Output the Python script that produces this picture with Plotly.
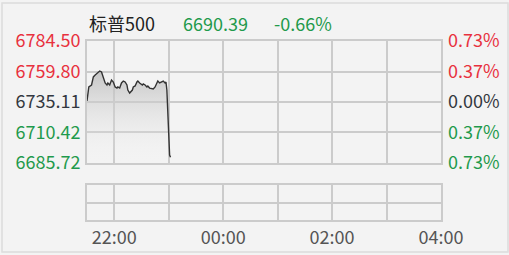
import plotly.graph_objects as go
from datetime import datetime, timedelta

# ---- data ----
title_name = "标普500"
last_price = "6690.39"
last_change = "-0.66%"
prev_close = 6735.11

minute_offsets = [0, 1, 2, 5, 7, 9, 11, 12, 14, 16, 18, 20, 22, 23, 25, 27, 29, 31, 33, 34,
                  36, 38, 40, 42, 44, 45, 47, 50, 51, 53, 55, 56, 58, 61, 62, 64, 66, 67, 69,
                  72, 73, 75, 77, 78, 80, 83, 84, 86, 87, 88, 89, 90, 91, 92]
prices = [6735.9, 6743.2, 6747.3, 6748.9, 6755.4, 6757.0, 6758.6, 6758.6, 6760.2, 6759.4,
          6755.4, 6750.5, 6748.9, 6750.5, 6748.9, 6752.9, 6751.3, 6747.3, 6746.4, 6747.3,
          6746.4, 6750.5, 6752.1, 6751.3, 6748.9, 6744.8, 6742.4, 6744.8, 6747.3, 6748.1,
          6751.3, 6752.1, 6750.5, 6748.9, 6749.7, 6748.9, 6747.3, 6748.1, 6746.4, 6745.6,
          6745.6, 6747.3, 6750.5, 6752.1, 6750.5, 6751.3, 6752.1, 6750.5, 6751.3, 6744.8,
          6723.0, 6706.8, 6692.2, 6690.39]

left_tick_vals = [6784.50, 6759.80, 6735.11, 6710.42, 6685.72]
left_tick_text = ["6784.50", "6759.80", "6735.11", "6710.42", "6685.72"]
right_tick_text = ["0.73%", "0.37%", "0.00%", "0.37%", "0.73%"]
tick_colors = ["#e8313e", "#e8313e", "#333840", "#1f9a4c", "#1f9a4c"]

hour_labels = ["22:00", "", "00:00", "", "02:00", "", "04:00"]

start = datetime(2025, 10, 10, 21, 30)
end = datetime(2025, 10, 11, 4, 0)
times = [start + timedelta(minutes=m) for m in minute_offsets]
hour_ticks = [datetime(2025, 10, 10, 22, 0) + timedelta(hours=h) for h in range(7)]

GREEN = "#1f9a4c"
GRID = "#cbcbcb"
BG = "#f3f3f3"
FONT = "Noto Sans CJK SC, Open Sans, sans-serif"
FS = 18

fig = go.Figure()

fig.add_trace(go.Scatter(
    x=times, y=prices, mode="lines",
    line=dict(color="#333333", width=1.4),
    fill="tozeroy",
    fillgradient=dict(type="vertical", start=6685.72, stop=6760.2,
                      colorscale=[[0, "rgba(243,243,243,0.0)"], [1, "rgba(185,185,185,0.8)"]]),
    xaxis="x", yaxis="y", hoverinfo="skip", showlegend=False,
))
fig.add_trace(go.Scatter(x=[start, end], y=[left_tick_vals[0], left_tick_vals[-1]],
                         mode="markers", marker=dict(opacity=0), xaxis="x", yaxis="y3",
                         hoverinfo="skip", showlegend=False))
fig.add_trace(go.Scatter(x=[start, end], y=[0, 2], mode="markers", marker=dict(opacity=0),
                         xaxis="x2", yaxis="y2", hoverinfo="skip", showlegend=False))

fig.add_shape(type="line", xref="x", yref="y", x0=start, x1=end, y0=prev_close, y1=prev_close,
              line=dict(color="#b4b4b4", width=2), layer="below")

ticktext_left = [f'<span style="color:{c}">{t}</span>' for t, c in zip(left_tick_text, tick_colors)]
ticktext_right = [f'<span style="color:{c}">{t}</span>' for t, c in zip(right_tick_text, tick_colors)]

main_dom = [57 / 179, 1.0]
vol_dom = [0, 35 / 179]

xcommon = dict(range=[start, end], tickvals=hour_ticks, showgrid=True, gridcolor=GRID, gridwidth=2,
               showline=True, linecolor=GRID, linewidth=2, mirror=True, zeroline=False,
               ticks="", fixedrange=True, automargin=False)

fig.update_layout(
    width=509, height=255,
    margin=dict(l=87, r=68, t=41, b=35, autoexpand=False),
    paper_bgcolor=BG, plot_bgcolor=BG,
    font=dict(family=FONT, size=FS, color="#333"),
    xaxis=dict(**xcommon, domain=[0, 1], anchor="y", showticklabels=False),
    xaxis2=dict(**xcommon, domain=[0, 1], anchor="y2", matches="x", showticklabels=True,
                ticktext=hour_labels, tickfont=dict(color="#555", size=FS), ticklabelstandoff=0),
    yaxis=dict(domain=main_dom, range=[left_tick_vals[-1], left_tick_vals[0]], tickvals=left_tick_vals,
               ticktext=ticktext_left, showgrid=True, gridcolor=GRID, gridwidth=2, zeroline=False,
               showline=True, linecolor=GRID, linewidth=2, mirror=True, ticks="", ticklabelstandoff=1,
               anchor="x", fixedrange=True, automargin=False),
    yaxis3=dict(domain=main_dom, range=[left_tick_vals[-1], left_tick_vals[0]], tickvals=left_tick_vals,
                ticktext=ticktext_right, overlaying="y", side="right", showgrid=False, zeroline=False,
                ticks="", ticklabelstandoff=6, anchor="x", fixedrange=True, automargin=False),
    yaxis2=dict(domain=vol_dom, range=[0, 2], tickvals=[1], showticklabels=False, showgrid=True,
                gridcolor=GRID, gridwidth=2, zeroline=False, showline=True, linecolor=GRID,
                linewidth=2, mirror=True, ticks="", anchor="x2", fixedrange=True, automargin=False),
)

pw, ph = 509 - 87 - 68, 255 - 41 - 35
header = [(title_name, 87, "#222"), (last_price, 181, GREEN), (last_change, 272, GREEN)]
for txt, px, col in header:
    fig.add_annotation(text=txt, x=(px - 87) / pw, y=(255 - 35 - 23) / ph,
                       xref="paper", yref="paper", xanchor="left", yanchor="middle",
                       showarrow=False, font=dict(color=col, size=FS, family=FONT))

fig.add_shape(type="rect", xref="paper", yref="paper",
              x0=(2 - 87) / pw, x1=(508 - 87) / pw,
              y0=(255 - 35 - 252) / ph, y1=(255 - 35 - 3) / ph,
              line=dict(color="#dcdcdc", width=1.5), fillcolor="rgba(0,0,0,0)", layer="below")

fig.write_html("out.html")
